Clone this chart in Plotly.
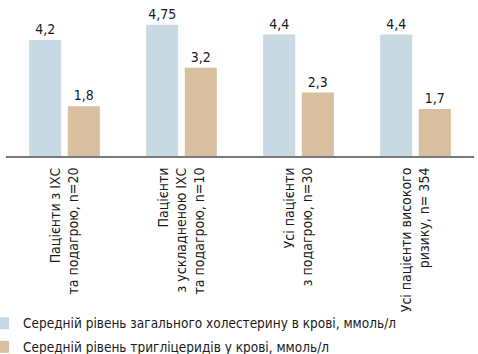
import plotly.graph_objects as go

categories = [
    "Пацієнти з ІХС<br>та подагрою, n=20",
    "Пацієнти<br>з ускладненою ІХС<br>та подагрою, n=10",
    "Усі пацієнти<br>з подагрою, n=30",
    "Усі пацієнти високого<br>ризику, n= 354",
]
cholesterol = [4.2, 4.75, 4.4, 4.4]
triglycerides = [1.8, 3.2, 2.3, 1.7]
series_names = [
    "Середній рівень загального холестерину в крові, ммоль/л",
    "Середній рівень тригліцеридів у крові, ммоль/л",
]

FONT = "DejaVu Sans Condensed, Liberation Sans Narrow, sans-serif"
TXT = "#1a1a1a"

fig = go.Figure()
fig.add_bar(x=categories, y=cholesterol, name=series_names[0], legendgroup="a",
            marker=dict(color="#c9d9e3", line=dict(width=0)),
            texttemplate="%{y}", textposition="outside",
            textfont=dict(family=FONT, size=14, color=TXT), cliponaxis=False)
fig.add_bar(x=categories, y=triglycerides, name=series_names[1], legendgroup="b",
            marker=dict(color="#d8bf9f", line=dict(width=0)),
            texttemplate="%{y}", textposition="outside",
            textfont=dict(family=FONT, size=14, color=TXT), cliponaxis=False)

fig.update_layout(
    width=478, height=354,
    margin=dict(l=6, r=4, t=0, b=198, autoexpand=False),
    paper_bgcolor="white", plot_bgcolor="white",
    separators=", ",
    barmode="group", bargap=0.34, bargroupgap=0.17,
    font=dict(family=FONT, size=14, color=TXT),
    showlegend=True,
    legend=dict(x=-0.049, xanchor="left", y=-0.974, yanchor="top",
                orientation="v", traceorder="grouped", tracegroupgap=3,
                font=dict(family=FONT, size=13.5, color=TXT),
                bgcolor="rgba(0,0,0,0)", itemclick=False),
    xaxis=dict(showline=True, linecolor="#7a7a7a", linewidth=2,
               tickangle=-90, ticks="", showgrid=False, ticklabelstandoff=4,
               automargin=False,
               tickfont=dict(family=FONT, size=14, color=TXT)),
    yaxis=dict(range=[0, 5.65], visible=False, showgrid=False, zeroline=False,
               automargin=False),
)

fig.write_html("out.html")
